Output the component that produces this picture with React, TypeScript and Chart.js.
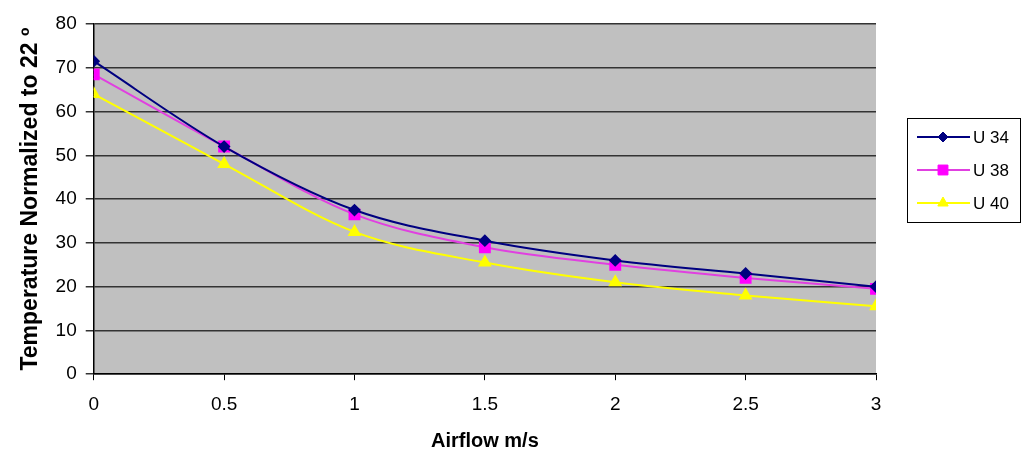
import React, { useEffect, useRef } from "react";
import { Chart, registerables } from "chart.js";

Chart.register(...registerables);

const airflow = [0, 0.5, 1, 1.5, 2, 2.5, 3];
const u34 = [71.5, 52, 37.5, 30.5, 26, 23, 20];
const u38 = [68.5, 52, 36.5, 29, 25, 22, 19.5];
const u40 = [64, 48, 32.5, 25.5, 21, 18, 15.5];
const seriesNames = ["U 34", "U 38", "U 40"];
const yTitle = "Temperature Normalized to 22 º";
const xTitle = "Airflow m/s";

const FONT = "'Liberation Sans', Arial, sans-serif";

function marker(ctx: CanvasRenderingContext2D, style: string, r: number, x: number, y: number) {
  ctx.beginPath();
  if (style === "rectRot") {
    ctx.moveTo(x, y - r);
    ctx.lineTo(x + r, y);
    ctx.lineTo(x, y + r);
    ctx.lineTo(x - r, y);
    ctx.closePath();
  } else if (style === "rect") {
    const s = r * Math.SQRT1_2;
    ctx.rect(x - s, y - s, 2 * s, 2 * s);
  } else {
    ctx.moveTo(x, y - r);
    ctx.lineTo(x + r * 0.866, y + r * 0.5);
    ctx.lineTo(x - r * 0.866, y + r * 0.5);
    ctx.closePath();
  }
  ctx.fill();
  ctx.stroke();
}

const bgPlugin = {
  id: "plotBg",
  beforeDraw(chart: any) {
    const { ctx, chartArea } = chart;
    ctx.save();
    ctx.fillStyle = "#c0c0c0";
    ctx.fillRect(chartArea.left, chartArea.top, chartArea.right - chartArea.left, chartArea.bottom - chartArea.top);
    ctx.restore();
  },
};

const legendPlugin = {
  id: "boxLegend",
  afterDraw(chart: any) {
    const { ctx } = chart;
    const x0 = 907, y0 = 118, w = 113, h = 104;
    ctx.save();
    ctx.fillStyle = "#ffffff";
    ctx.fillRect(x0, y0, w, h);
    ctx.strokeStyle = "#000";
    ctx.lineWidth = 1;
    ctx.strokeRect(x0 + 0.5, y0 + 0.5, w, h);
    chart.data.datasets.forEach((ds: any, i: number) => {
      const y = y0 + 19 + i * 33;
      ctx.strokeStyle = ds.borderColor;
      ctx.lineWidth = 2;
      ctx.beginPath();
      ctx.moveTo(917, y);
      ctx.lineTo(970, y);
      ctx.stroke();
      ctx.fillStyle = ds.pointBackgroundColor;
      ctx.strokeStyle = ds.pointBorderColor;
      ctx.lineWidth = 1;
      marker(ctx, ds.pointStyle, ds.pointRadius, 943, y);
      ctx.fillStyle = "#000";
      ctx.font = `17px ${FONT}`;
      ctx.textBaseline = "middle";
      ctx.textAlign = "left";
      ctx.fillText(ds.label, 973, y + 1);
    });
    ctx.restore();
  },
};

export default function App() {
  const ref = useRef<HTMLCanvasElement>(null);
  useEffect(() => {
    if (!ref.current) return;
    const mk = (arr: number[]) => arr.map((v, i) => ({ x: airflow[i], y: v }));
    const chart = new Chart(ref.current, {
      type: "line",
      data: {
        datasets: [
          {
            label: seriesNames[0],
            data: mk(u34),
            borderColor: "#000080",
            backgroundColor: "#000080",
            pointBackgroundColor: "#000080",
            pointBorderColor: "#000080",
            pointStyle: "rectRot",
            pointRadius: 5,
            borderWidth: 2,
            cubicInterpolationMode: "monotone",
          },
          {
            label: seriesNames[1],
            data: mk(u38),
            borderColor: "#e040e0",
            backgroundColor: "#ff00ff",
            pointBackgroundColor: "#ff00ff",
            pointBorderColor: "#ff00ff",
            pointStyle: "rect",
            pointRadius: 7,
            borderWidth: 2,
            cubicInterpolationMode: "monotone",
          },
          {
            label: seriesNames[2],
            data: mk(u40),
            borderColor: "#ffff00",
            backgroundColor: "#ffff00",
            pointBackgroundColor: "#ffff00",
            pointBorderColor: "#ffff00",
            pointStyle: "triangle",
            pointRadius: 6,
            borderWidth: 2,
            cubicInterpolationMode: "monotone",
          },
        ],
      },
      options: {
        animation: false,
        responsive: false,
        maintainAspectRatio: false,
        layout: { padding: { top: 24, right: 150, bottom: 0, left: 17 } },
        plugins: { legend: { display: false }, tooltip: { enabled: false } },
        scales: {
          x: {
            type: "linear",
            min: 0,
            max: 3,
            ticks: {
              stepSize: 0.5,
              color: "#000",
              font: { family: FONT, size: 19 },
              padding: 13,
              callback: (v: any) => String(v),
            },
            grid: { drawOnChartArea: false, drawTicks: true, tickLength: 6, color: "#000" },
            border: { color: "#000", width: 1.5 },
            title: { display: true, text: xTitle, color: "#000", font: { family: FONT, size: 20, weight: "bold" }, padding: { top: 0, bottom: 0 } },
          },
          y: {
            min: 0,
            max: 80,
            ticks: { stepSize: 10, color: "#000", font: { family: FONT, size: 19 }, padding: 9 },
            grid: { color: "#333", lineWidth: 1.5, tickLength: 8, drawTicks: true },
            border: { color: "#000", width: 1.5 },
            title: { display: true, text: yTitle, color: "#000", font: { family: FONT, size: 23, weight: "bold" }, padding: { top: 0, bottom: 2 } },
          },
        },
      },
      plugins: [bgPlugin, legendPlugin],
    } as any);
    return () => chart.destroy();
  }, []);
  return (
    <div style={{ position: "fixed", left: 0, top: 0, width: 1026, height: 453, background: "#fff" }}>
      <canvas ref={ref} width={1026} height={453} style={{ width: 1026, height: 453 }} />
    </div>
  );
}
